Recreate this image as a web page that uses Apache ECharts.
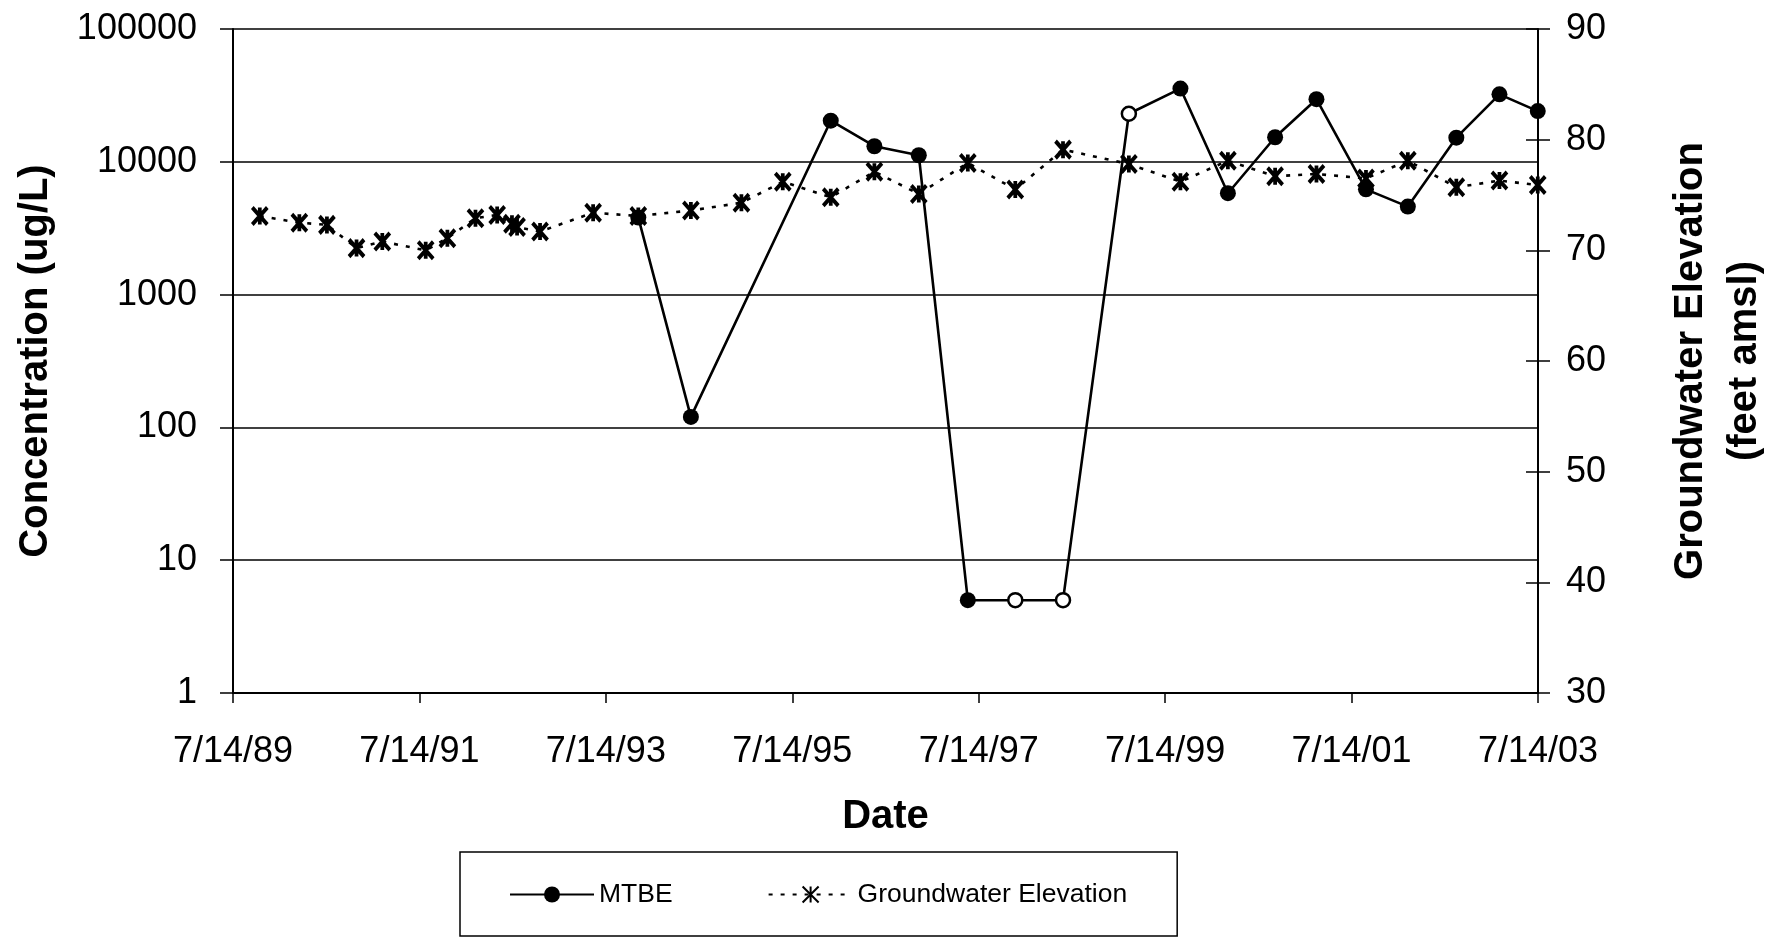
<!DOCTYPE html>
<html>
<head>
<meta charset="utf-8">
<script src="https://cdn.jsdelivr.net/npm/echarts@6/dist/echarts.min.js"></script>
<style>
  html, body { margin: 0; padding: 0; background: #ffffff; }
  #chart { width: 1767px; height: 937px; }
</style>
</head>
<body>
<div id="chart"></div>
<script>
// ---------------- data ----------------
const sampleDates = [
  '1989-10-27', '1990-03-31', '1990-07-17', '1990-11-10', '1991-02-19',
  '1991-08-08', '1991-11-01', '1992-02-19', '1992-05-14', '1992-07-11',
  '1992-07-31', '1992-10-29', '1993-05-25', '1993-11-18', '1994-06-12',
  '1994-12-27', '1995-06-07', '1995-12-12', '1996-05-31', '1996-11-21',
  '1997-06-01', '1997-12-04', '1998-06-09', '1999-02-22', '1999-09-12',
  '2000-03-16', '2000-09-17', '2001-02-26', '2001-09-08', '2002-02-19',
  '2002-08-28', '2003-02-13', '2003-07-13'
];
const groundwaterElevation = [
  73.1, 72.5, 72.3, 70.2, 70.8,
  70.0, 71.1, 72.9, 73.2, 72.4,
  72.1, 71.7, 73.4, 73.1, 73.6,
  74.3, 76.2, 74.8, 77.1, 75.1,
  77.9, 75.5, 79.1, 77.8, 76.2,
  78.1, 76.7, 76.9, 76.5, 78.1,
  75.7, 76.3, 75.9
];
const mtbeDates = [
  '1993-11-18', '1994-06-12', '1995-12-12', '1996-05-31', '1996-11-21',
  '1997-06-01', '1997-12-04', '1998-06-09', '1999-02-22', '1999-09-12',
  '2000-03-16', '2000-09-17', '2001-02-26', '2001-09-08', '2002-02-19',
  '2002-08-28', '2003-02-13', '2003-07-13'
];
const mtbeValues = [
  3800, 120, 20400, 13100, 11200,
  5, 5, 5, 23000, 35600,
  5800, 15300, 29600, 6200, 4600,
  15200, 32200, 24100
];
// open (hollow) markers in the reference
const mtbeOpenMarker = [
  false, false, false, false, false,
  false, true, true, true, false,
  false, false, false, false, false,
  false, false, false
];
const xTickLabels = ['7/14/89', '7/14/91', '7/14/93', '7/14/95', '7/14/97', '7/14/99', '7/14/01', '7/14/03'];
const axisStartDate = '1989-07-14';
const axisEndDate = '2003-07-14';

// ---------------- helpers ----------------
const DAY = 86400000;
const t0 = Date.parse(axisStartDate);
const spanDays = (Date.parse(axisEndDate) - t0) / DAY;          // 14 years in days
const yearLen = spanDays / 14;
function xOf(s) { return (Date.parse(s) - t0) / DAY / yearLen; } // years since start

const FONT = "'Liberation Sans', Arial, Helvetica, sans-serif";
const STAR = 'path://M0,0L10,12M10,0L0,12M5,0L5,12';

const gwData = sampleDates.map((d, i) => [xOf(d), groundwaterElevation[i]]);
const mtbeData = mtbeDates.map((d, i) => {
  const item = { value: [xOf(d), mtbeValues[i]] };
  if (mtbeOpenMarker[i]) {
    item.itemStyle = { color: '#ffffff', borderColor: '#000000', borderWidth: 2.5 };
    item.symbolSize = 14;
  }
  return item;
});

const chart = echarts.init(document.getElementById('chart'), null, { renderer: 'canvas' });
chart.setOption({
  animation: false,
  backgroundColor: '#ffffff',
  textStyle: { fontFamily: FONT, color: '#000' },
  grid: { left: 233, right: 229, top: 29, bottom: 244, containLabel: false, outerBoundsMode: 'none' },
  legend: {
    left: 460, top: 852,
    orient: 'horizontal',
    padding: [29, 50, 28, 49],
    itemGap: 95,
    itemWidth: 84,
    itemHeight: 20,
    borderColor: '#000',
    borderWidth: 1.5,
    borderRadius: 0,
    textStyle: { fontFamily: FONT, fontSize: 26.5, color: '#000' },
    data: ['MTBE', 'Groundwater Elevation']
  },
  xAxis: {
    type: 'value',
    min: 0, max: 14, interval: 2,
    name: 'Date',
    nameLocation: 'middle',
    nameGap: 104,
    nameTextStyle: { fontFamily: FONT, fontSize: 40, fontWeight: 'bold', color: '#000' },
    axisLine: { show: true, onZero: false, lineStyle: { color: '#000', width: 2 } },
    axisTick: { show: true, inside: false, length: 10, lineStyle: { color: '#000', width: 1.5 } },
    axisLabel: {
      show: true, margin: 41, fontFamily: FONT, fontSize: 36, color: '#000',
      formatter: v => xTickLabels[Math.round(v / 2)] || ''
    },
    splitLine: { show: false }
  },
  yAxis: [
    {
      type: 'log', logBase: 10, min: 1, max: 100000, splitNumber: 5,
      position: 'left',
      name: 'Concentration (ug/L)',
      nameLocation: 'middle',
      nameGap: 177,
      nameTextStyle: { fontFamily: FONT, fontSize: 40, fontWeight: 'bold', color: '#000' },
      axisLine: { show: true, lineStyle: { color: '#000', width: 2 } },
      axisTick: { show: true, inside: false, length: 13, lineStyle: { color: '#000', width: 1.5 } },
      axisLabel: {
        show: true, margin: 36, fontFamily: FONT, fontSize: 36, color: '#000',
        formatter: v => String(Math.round(v))
      },
      splitLine: { show: true, lineStyle: { color: '#000', width: 1.5 } },
      minorTick: { show: false }
    },
    {
      type: 'value', min: 30, max: 90, interval: 10,
      position: 'right',
      name: 'Groundwater Elevation\n(feet amsl)',
      nameLocation: 'middle',
      nameGap: 126,
      nameTextStyle: { fontFamily: FONT, fontSize: 40, fontWeight: 'bold', color: '#000', lineHeight: 54, align: 'center' },
      axisLine: { show: true, lineStyle: { color: '#000', width: 2 } },
      axisTick: { show: true, inside: false, length: 12, lineStyle: { color: '#000', width: 1.5 } },
      axisLabel: { show: true, margin: 28, fontFamily: FONT, fontSize: 36, color: '#000' },
      splitLine: { show: false }
    },
    {
      type: 'value', min: 30, max: 90, interval: 10,
      position: 'right',
      axisLine: { show: false },
      axisTick: { show: true, inside: true, length: 12, lineStyle: { color: '#000', width: 1.5 } },
      axisLabel: { show: false },
      splitLine: { show: false }
    }
  ],
  series: [
    {
      name: 'MTBE',
      type: 'line',
      yAxisIndex: 0,
      data: mtbeData,
      symbol: 'circle',
      symbolSize: 16,
      showAllSymbol: true,
      lineStyle: { color: '#000', width: 2.6, type: 'solid' },
      itemStyle: { color: '#000', borderColor: '#000', borderWidth: 0 },
      z: 3
    },
    {
      name: 'Groundwater Elevation',
      type: 'line',
      yAxisIndex: 1,
      data: gwData,
      symbol: STAR,
      symbolSize: [15, 17],
      showAllSymbol: true,
      lineStyle: { color: '#000', width: 2.6, type: [4, 8] },
      itemStyle: { color: '#000', borderColor: '#000', borderWidth: 4 },
      z: 4
    }
  ]
});
</script>
</body>
</html>
